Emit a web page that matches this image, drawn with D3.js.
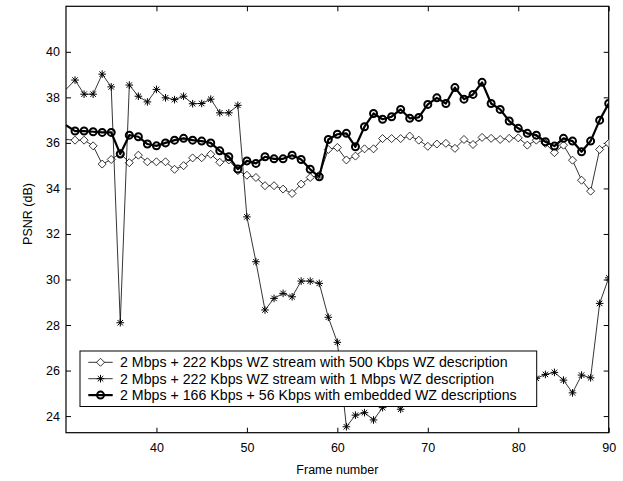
<!DOCTYPE html>
<html>
<head>
<meta charset="utf-8">
<script src="https://cdn.jsdelivr.net/npm/d3@7"></script>
<style>
  body { margin: 0; background: #fff; }
  text { font-family: "Liberation Sans", Arial, sans-serif; fill: #000; }
</style>
</head>
<body>
<script>
// frame numbers on the x axis
const frames = d3.range(30, 91);
const xTicks = [40, 50, 60, 70, 80, 90];
const yTicks = [24, 26, 28, 30, 32, 34, 36, 38, 40];

// 2 Mbps + 222 Kbps WZ stream with 500 Kbps WZ description (diamonds)
const wz500 = [36.15, 36.12, 36.12, 35.87, 35.07, 35.27, 35.55, 35.13, 35.46, 35.17,
  35.17, 35.17, 34.84, 35.0, 35.34, 35.35, 35.5, 35.15, 35.25, 34.78,
  34.58, 34.48, 34.12, 34.12, 33.97, 33.78, 34.19, 34.48, 34.58, 35.71,
  35.8, 35.25, 35.42, 35.74, 35.74, 36.19, 36.19, 36.19, 36.3, 36.12,
  35.85, 35.95, 35.98, 35.76, 36.15, 35.93, 36.24, 36.2, 36.15, 36.2,
  36.22, 35.9, 36.12, 35.98, 35.57, 35.9, 35.24, 34.36, 33.88, 35.71, 35.98];

// 2 Mbps + 222 Kbps WZ stream with 1 Mbps WZ description (stars)
const wz1M = [38.35, 38.76, 38.14, 38.14, 39.02, 38.46, 28.1, 38.54, 38.05, 37.8,
  38.35, 37.98, 37.9, 38.05, 37.72, 37.73, 37.92, 37.32, 37.32, 37.65,
  32.75, 30.78, 28.66, 29.17, 29.39, 29.24, 29.93, 29.93, 29.83, 28.34,
  27.24, 23.53, 24.04, 24.15, 23.83, 24.37, 24.6, 24.3, 24.9, 25.2,
  25.0, 25.3, 25.6, 25.4, 25.7, 25.5, 25.8, 25.6, 25.9, 25.7,
  25.9, 25.7, 25.66, 25.83, 25.92, 25.58, 25.02, 25.8, 25.68, 28.95, 30.07];

// 2 Mbps + 166 Kbps + 56 Kbps with embedded WZ descriptions (circles)
const embedded = [36.78, 36.52, 36.52, 36.49, 36.46, 36.46, 35.51, 36.34, 36.27, 35.95,
  35.87, 36.0, 36.12, 36.2, 36.12, 36.08, 36.0, 35.65, 35.39, 34.85,
  35.21, 35.1, 35.39, 35.3, 35.3, 35.46, 35.27, 34.84, 34.51, 36.15,
  36.38, 36.42, 35.83, 36.71, 37.29, 37.04, 37.15, 37.47, 37.08, 37.12,
  37.69, 37.98, 37.73, 38.43, 37.92, 38.13, 38.66, 37.73, 37.47, 36.96,
  36.64, 36.42, 36.34, 36.05, 35.86, 36.2, 36.08, 35.61, 36.08, 37.0, 37.73];

const legendLabels = [
  "2 Mbps + 222 Kbps WZ stream with 500 Kbps WZ description",
  "2 Mbps + 222 Kbps WZ stream with 1 Mbps WZ description",
  "2 Mbps + 166 Kbps + 56 Kbps with embedded WZ descriptions"
];

const width = 623, height = 481;
const plotL = 66, plotR = 608.7, plotT = 6.3, plotB = 432.7;

const svg = d3.select('body').append('svg')
  .attr('width', width)
  .attr('height', height);

svg.append('rect').attr('width', width).attr('height', height).attr('fill', '#fff');

const x = d3.scaleLinear().domain([30, 90]).range([plotL, plotR]);
const y = d3.scaleLinear().domain([23.27, 42]).range([plotB, plotT]);

svg.append('clipPath').attr('id', 'plotclip')
  .append('rect')
  .attr('x', plotL).attr('y', plotT)
  .attr('width', plotR - plotL).attr('height', plotB - plotT);

// axes, ticks pointing inward like matlab
const tick = 5;
svg.append('g')
  .attr('transform', `translate(0,${plotB})`)
  .call(d3.axisBottom(x).tickValues(xTicks).tickSizeInner(-tick).tickSizeOuter(0).tickPadding(10))
  .call(g => g.select('.domain').remove())
  .call(g => g.selectAll('text').attr('font-size', 12.5));

svg.append('g')
  .attr('transform', `translate(0,${plotT})`)
  .call(d3.axisTop(x).tickValues(xTicks).tickSizeInner(-tick).tickSizeOuter(0).tickFormat(''))
  .call(g => g.select('.domain').remove());

svg.append('g')
  .attr('transform', `translate(${plotL},0)`)
  .call(d3.axisLeft(y).tickValues(yTicks).tickSizeInner(-tick).tickSizeOuter(0).tickPadding(6))
  .call(g => g.select('.domain').remove())
  .call(g => g.selectAll('text').attr('font-size', 12.5));

svg.append('g')
  .attr('transform', `translate(${plotR},0)`)
  .call(d3.axisRight(y).tickValues(yTicks).tickSizeInner(-tick).tickSizeOuter(0).tickFormat(''))
  .call(g => g.select('.domain').remove());

svg.selectAll('.tick line').attr('stroke', '#000');

svg.append('rect')
  .attr('x', plotL).attr('y', plotT)
  .attr('width', plotR - plotL).attr('height', plotB - plotT)
  .attr('fill', 'none').attr('stroke', '#000').attr('stroke-width', 1.2);

// axis titles
svg.append('text')
  .attr('x', (plotL + plotR) / 2).attr('y', 474)
  .attr('text-anchor', 'middle').attr('font-size', 12.5)
  .text('Frame number');

svg.append('text')
  .attr('transform', `translate(32,214) rotate(-90)`)
  .attr('text-anchor', 'middle').attr('font-size', 12.5)
  .text('PSNR (dB)');

// marker shapes
const diamondPath = s => `M0,${-s}L${s},0L0,${s}L${-s},0Z`;
const starPath = s => {
  const d = s * 0.72;
  return `M${-s},0H${s}M0,${-s}V${s}M${-d},${-d}L${d},${d}M${-d},${d}L${d},${-d}`;
};

const series = [
  { values: wz500, kind: 'diamond', lw: 0.8 },
  { values: wz1M, kind: 'star', lw: 0.8 },
  { values: embedded, kind: 'circle', lw: 2.2 }
];

const line = d3.line().x(d => x(d.f)).y(d => y(d.v));
const plot = svg.append('g').attr('clip-path', 'url(#plotclip)');

function drawMarker(g, kind) {
  if (kind === 'diamond') {
    g.append('path').attr('d', diamondPath(4))
      .attr('fill', '#fff').attr('stroke', '#000').attr('stroke-width', 0.8);
  } else if (kind === 'star') {
    g.append('path').attr('d', starPath(3.8))
      .attr('fill', 'none').attr('stroke', '#000').attr('stroke-width', 1);
  } else {
    g.append('circle').attr('r', 3.5)
      .attr('fill', 'none').attr('stroke', '#000').attr('stroke-width', 2);
  }
}

series.forEach(s => {
  const pts = frames.map((f, i) => ({ f: f, v: s.values[i] }));
  plot.append('path').datum(pts)
    .attr('d', line)
    .attr('fill', 'none')
    .attr('stroke', '#000')
    .attr('stroke-width', s.lw)
    .attr('stroke-linejoin', 'round');
  // no marker on the left axis edge, as in the original
  plot.selectAll(null).data(pts.filter(d => d.f > 30)).join('g')
    .attr('transform', d => `translate(${x(d.f)},${y(d.v)})`)
    .each(function() { drawMarker(d3.select(this), s.kind); });
});

// legend
const lg = svg.append('g');
lg.append('rect')
  .attr('x', 80).attr('y', 351).attr('width', 456.7).attr('height', 55.5)
  .attr('fill', '#fff').attr('stroke', '#000').attr('stroke-width', 1);

const rowY = [362.3, 378.7, 395.1];
series.forEach((s, i) => {
  const row = lg.append('g').attr('transform', `translate(0,${rowY[i]})`);
  row.append('line').attr('x1', 88.3).attr('x2', 112.7)
    .attr('stroke', '#000').attr('stroke-width', s.lw);
  drawMarker(row.append('g').attr('transform', 'translate(100.5,0)'), s.kind);
  row.append('text').attr('x', 120).attr('dy', '0.36em')
    .attr('font-size', 14.2)
    .text(legendLabels[i]);
});
</script>
</body>
</html>
